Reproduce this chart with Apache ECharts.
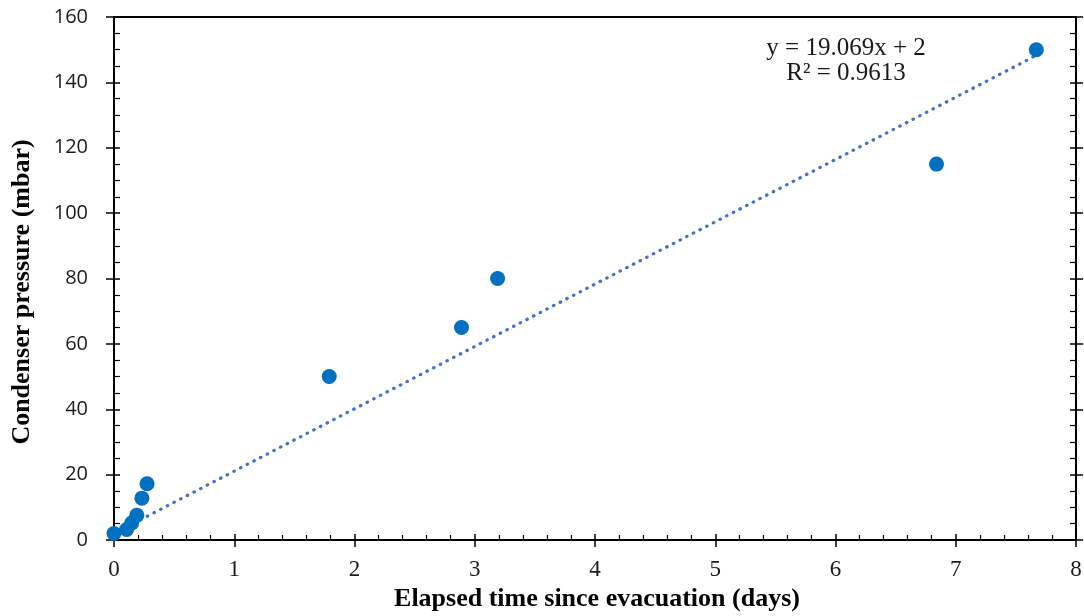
<!DOCTYPE html>
<html>
<head>
<meta charset="utf-8">
<script src="https://cdn.jsdelivr.net/npm/echarts@6/dist/echarts.min.js"></script>
<style>
  html, body { margin: 0; padding: 0; background: #ffffff; }
  #chart { width: 1084px; height: 616px; }
</style>
</head>
<body>
<div id="chart"></div>
<script>
// Elapsed time since evacuation (days)
const elapsedDays = [0, 0.105, 0.147, 0.19, 0.232, 0.275, 1.79, 2.89, 3.19, 6.84, 7.67];
// Condenser pressure (mbar)
const pressureMbar = [2, 3.2, 5.2, 7.6, 12.8, 17.2, 50, 65, 80, 115, 150];

// Linear trendline as stated in the annotation
const trendSlope = 19.069;
const trendIntercept = 2;
const trendLabel = ['y = 19.069x + 2', 'R\u00B2 = 0.9613'];

const xTitle = 'Elapsed time since evacuation (days)';
const yTitle = 'Condenser pressure (mbar)';

const xTicks = { min: 0, max: 8, interval: 1 };
const yTicks = { min: 0, max: 160, interval: 20 };

const points = elapsedDays.map((x, i) => [x, pressureMbar[i]]);
const xEnd = Math.max(...elapsedDays);
const trendPoints = [0, xEnd].map(x => [x, trendSlope * x + trendIntercept]);

const axisColor = '#000000';
const textColor = '#1a1a1a';
const serif = '"Liberation Serif", "DejaVu Serif", serif';
const sans = '"Open Sans", "Liberation Sans", sans-serif';

const grid = { left: 114, right: 8, top: 17, bottom: 76, containLabel: false, outerBoundsMode: 'none' };

function xBase(extra) {
  return Object.assign({
    type: 'value', min: xTicks.min, max: xTicks.max, interval: xTicks.interval,
    splitLine: { show: false },
    axisLine: { show: false, onZero: false },
    axisLabel: { show: false },
    axisTick: { show: false }
  }, extra);
}
function yBase(extra) {
  return Object.assign({
    type: 'value', min: yTicks.min, max: yTicks.max, interval: yTicks.interval,
    splitLine: { show: false },
    axisLine: { show: false, onZero: false },
    axisLabel: { show: false },
    axisTick: { show: false }
  }, extra);
}

const option = {
  backgroundColor: '#ffffff',
  animation: false,
  grid: grid,
  xAxis: [
    xBase({
      position: 'bottom',
      axisLine: { show: true, onZero: false, lineStyle: { color: axisColor, width: 2 } },
      axisTick: { show: true, inside: true, length: 6, lineStyle: { color: axisColor, width: 1.5 } },
      minorTick: { show: true, splitNumber: 5, length: 5, lineStyle: { color: axisColor, width: 1.2 } },
      axisLabel: { show: true, margin: 18, color: textColor, fontFamily: serif, fontSize: 23 }
    }),
    xBase({
      position: 'bottom',
      axisTick: { show: true, inside: false, length: 7, lineStyle: { color: axisColor, width: 1.5 } }
    }),
    xBase({
      position: 'top',
      axisLine: { show: true, onZero: false, lineStyle: { color: axisColor, width: 2 } }
    })
  ],
  yAxis: [
    yBase({
      position: 'left',
      axisLine: { show: true, onZero: false, lineStyle: { color: axisColor, width: 2 } },
      axisTick: { show: true, inside: false, length: 8, lineStyle: { color: axisColor, width: 1.5 } },
      axisLabel: { show: true, margin: 26, color: textColor, fontFamily: sans, fontSize: 20 }
    }),
    yBase({
      position: 'left',
      axisTick: { show: true, inside: true, length: 6, lineStyle: { color: axisColor, width: 1.5 } },
      minorTick: { show: true, splitNumber: 4, length: 6, lineStyle: { color: axisColor, width: 1.2 } }
    }),
    yBase({
      position: 'right',
      axisLine: { show: true, onZero: false, lineStyle: { color: axisColor, width: 2 } },
      axisTick: { show: true, inside: true, length: 6, lineStyle: { color: axisColor, width: 1.5 } },
      minorTick: { show: true, splitNumber: 4, length: 6, lineStyle: { color: axisColor, width: 1.2 } }
    }),
    yBase({
      position: 'right',
      axisTick: { show: true, inside: false, length: 7, lineStyle: { color: axisColor, width: 1.5 } }
    })
  ],
  series: [
    {
      name: 'Trendline',
      type: 'line',
      data: trendPoints,
      showSymbol: false,
      symbol: 'none',
      z: 2,
      lineStyle: { color: '#4472C4', width: 3.2, type: [0.5, 7], cap: 'round' }
    },
    {
      name: 'Pressure',
      type: 'scatter',
      data: points,
      symbolSize: 15,
      z: 3,
      itemStyle: { color: '#0070C0', opacity: 1 }
    }
  ],
  graphic: [
    // Horizontal axis title
    {
      type: 'text',
      x: 597,
      y: 599,
      style: {
        text: xTitle,
        align: 'center',
        verticalAlign: 'middle',
        fill: '#000',
        font: 'bold 26px "Liberation Serif", "DejaVu Serif", serif'
      }
    },
    // Vertical axis title
    {
      type: 'text',
      x: 22,
      y: 292,
      rotation: Math.PI / 2,
      style: {
        text: yTitle,
        align: 'center',
        verticalAlign: 'middle',
        fill: '#000',
        font: 'bold 26px "Liberation Serif", "DejaVu Serif", serif'
      }
    },
    // Trendline equation and R squared
    {
      type: 'text',
      x: 846,
      y: 48,
      style: {
        text: trendLabel[0],
        align: 'center',
        verticalAlign: 'middle',
        fill: textColor,
        font: '25px "Liberation Serif", "DejaVu Serif", serif'
      }
    },
    {
      type: 'text',
      x: 846,
      y: 73,
      style: {
        text: trendLabel[1],
        align: 'center',
        verticalAlign: 'middle',
        fill: textColor,
        font: '25px "Liberation Serif", "DejaVu Serif", serif'
      }
    }
  ]
};

const chart = echarts.init(document.getElementById('chart'), null, { renderer: 'canvas' });
chart.setOption(option);
</script>
</body>
</html>
